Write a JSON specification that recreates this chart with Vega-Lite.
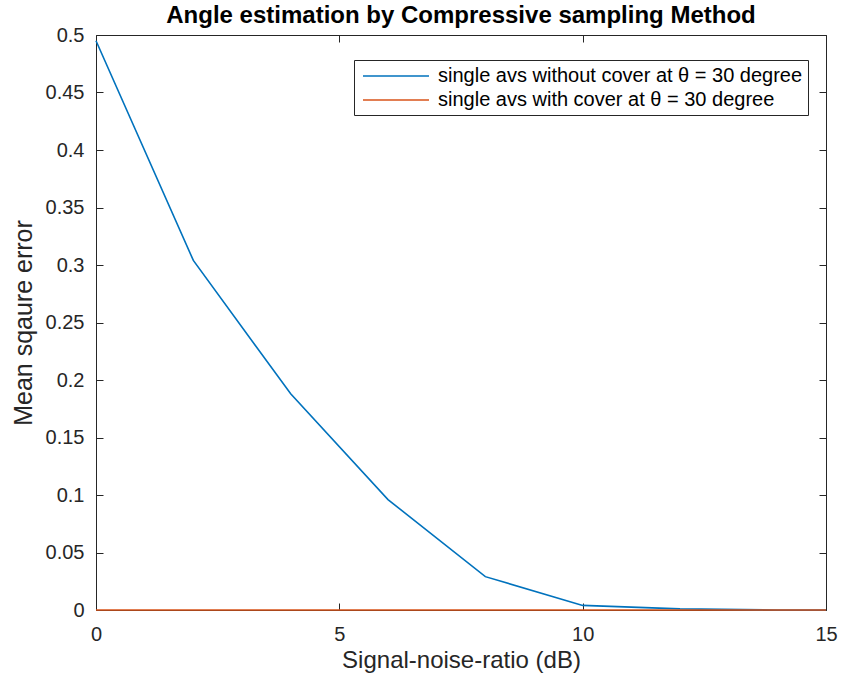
{
  "$schema": "https://vega.github.io/schema/vega-lite/v6.json",
  "width": 730,
  "height": 575,
  "autosize": {"type": "none"},
  "padding": {"left": 96, "top": 35, "right": 16, "bottom": 74},
  "background": "white",
  "config": {
    "font": "Liberation Sans",
    "view": {"stroke": "#262626", "strokeWidth": 1},
    "axis": {
      "domain": false,
      "grid": false,
      "labelFont": "Liberation Sans",
      "labelFontSize": 20,
      "labelColor": "#262626",
      "titleFont": "Liberation Sans",
      "titleFontSize": 24,
      "titleFontWeight": "normal",
      "titleColor": "#262626",
      "tickColor": "#262626",
      "tickSize": -7,
      "tickWidth": 1
    }
  },
  "title": {
    "text": "Angle estimation by Compressive sampling Method",
    "font": "Liberation Sans",
    "fontSize": 24,
    "fontWeight": "bold",
    "color": "#000000",
    "anchor": "middle",
    "offset": -3
  },
  "data": {
    "values": [
      {"snr": 0, "mse": 0.495, "series": "single avs without cover at θ = 30 degree"},
      {"snr": 2, "mse": 0.304, "series": "single avs without cover at θ = 30 degree"},
      {"snr": 4, "mse": 0.188, "series": "single avs without cover at θ = 30 degree"},
      {"snr": 6, "mse": 0.096, "series": "single avs without cover at θ = 30 degree"},
      {"snr": 8, "mse": 0.029, "series": "single avs without cover at θ = 30 degree"},
      {"snr": 10, "mse": 0.004, "series": "single avs without cover at θ = 30 degree"},
      {"snr": 12, "mse": 0.001, "series": "single avs without cover at θ = 30 degree"},
      {"snr": 14, "mse": 0.0, "series": "single avs without cover at θ = 30 degree"},
      {"snr": 15, "mse": 0.0, "series": "single avs without cover at θ = 30 degree"},
      {"snr": 0, "mse": 0.0, "series": "single avs with cover at θ = 30 degree"},
      {"snr": 2, "mse": 0.0, "series": "single avs with cover at θ = 30 degree"},
      {"snr": 4, "mse": 0.0, "series": "single avs with cover at θ = 30 degree"},
      {"snr": 6, "mse": 0.0, "series": "single avs with cover at θ = 30 degree"},
      {"snr": 8, "mse": 0.0, "series": "single avs with cover at θ = 30 degree"},
      {"snr": 10, "mse": 0.0, "series": "single avs with cover at θ = 30 degree"},
      {"snr": 12, "mse": 0.0, "series": "single avs with cover at θ = 30 degree"},
      {"snr": 14, "mse": 0.0, "series": "single avs with cover at θ = 30 degree"},
      {"snr": 15, "mse": 0.0, "series": "single avs with cover at θ = 30 degree"}
    ]
  },
  "layer": [
    {
      "mark": {"type": "rule", "opacity": 0},
      "encoding": {
        "x": {"field": "snr", "type": "quantitative", "scale": {"domain": [0, 15], "nice": false, "zero": false}, "axis": {"orient": "top", "values": [0, 5, 10, 15], "labels": false, "title": null}},
        "y": {"field": "mse", "type": "quantitative", "scale": {"domain": [0, 0.5], "nice": false}, "axis": {"orient": "right", "values": [0, 0.05, 0.1, 0.15, 0.2, 0.25, 0.3, 0.35, 0.4, 0.45, 0.5], "labels": false, "title": null}}
      }
    },
    {
      "mark": {"type": "line", "strokeWidth": 1.6, "clip": false},
      "encoding": {
        "x": {
          "field": "snr",
          "type": "quantitative",
          "scale": {"domain": [0, 15], "nice": false, "zero": false},
          "axis": {"values": [0, 5, 10, 15], "title": "Signal-noise-ratio (dB)", "labelPadding": 21, "titlePadding": 4, "labelFlush": false}
        },
        "y": {
          "field": "mse",
          "type": "quantitative",
          "scale": {"domain": [0, 0.5], "nice": false},
          "axis": {"values": [0, 0.05, 0.1, 0.15, 0.2, 0.25, 0.3, 0.35, 0.4, 0.45, 0.5], "format": "~g", "title": "Mean sqaure error", "titleFontSize": 25, "labelPadding": 19, "titlePadding": 9, "labelFlush": false}
        },
        "color": {
          "field": "series",
          "type": "nominal",
          "sort": ["single avs without cover at θ = 30 degree", "single avs with cover at θ = 30 degree"],
          "scale": {
            "domain": ["single avs without cover at θ = 30 degree", "single avs with cover at θ = 30 degree"],
            "range": ["#0072BD", "#D95319"]
          },
          "legend": {
            "title": null,
            "orient": "none",
            "legendX": 258,
            "legendY": 25,
            "symbolType": "M-0.7,0L5.9,0",
            "symbolSize": 400,
            "symbolStrokeWidth": 1.6,
            "labelFont": "Liberation Sans",
            "labelFontSize": 20,
            "labelColor": "#000000",
            "labelLimit": 600,
            "labelOffset": 57,
            "strokeColor": "#262626",
            "fillColor": "white",
            "padding": 5,
            "rowPadding": 3
          }
        }
      }
    }
  ],
  "resolve": {"axis": {"x": "independent", "y": "independent"}}
}
